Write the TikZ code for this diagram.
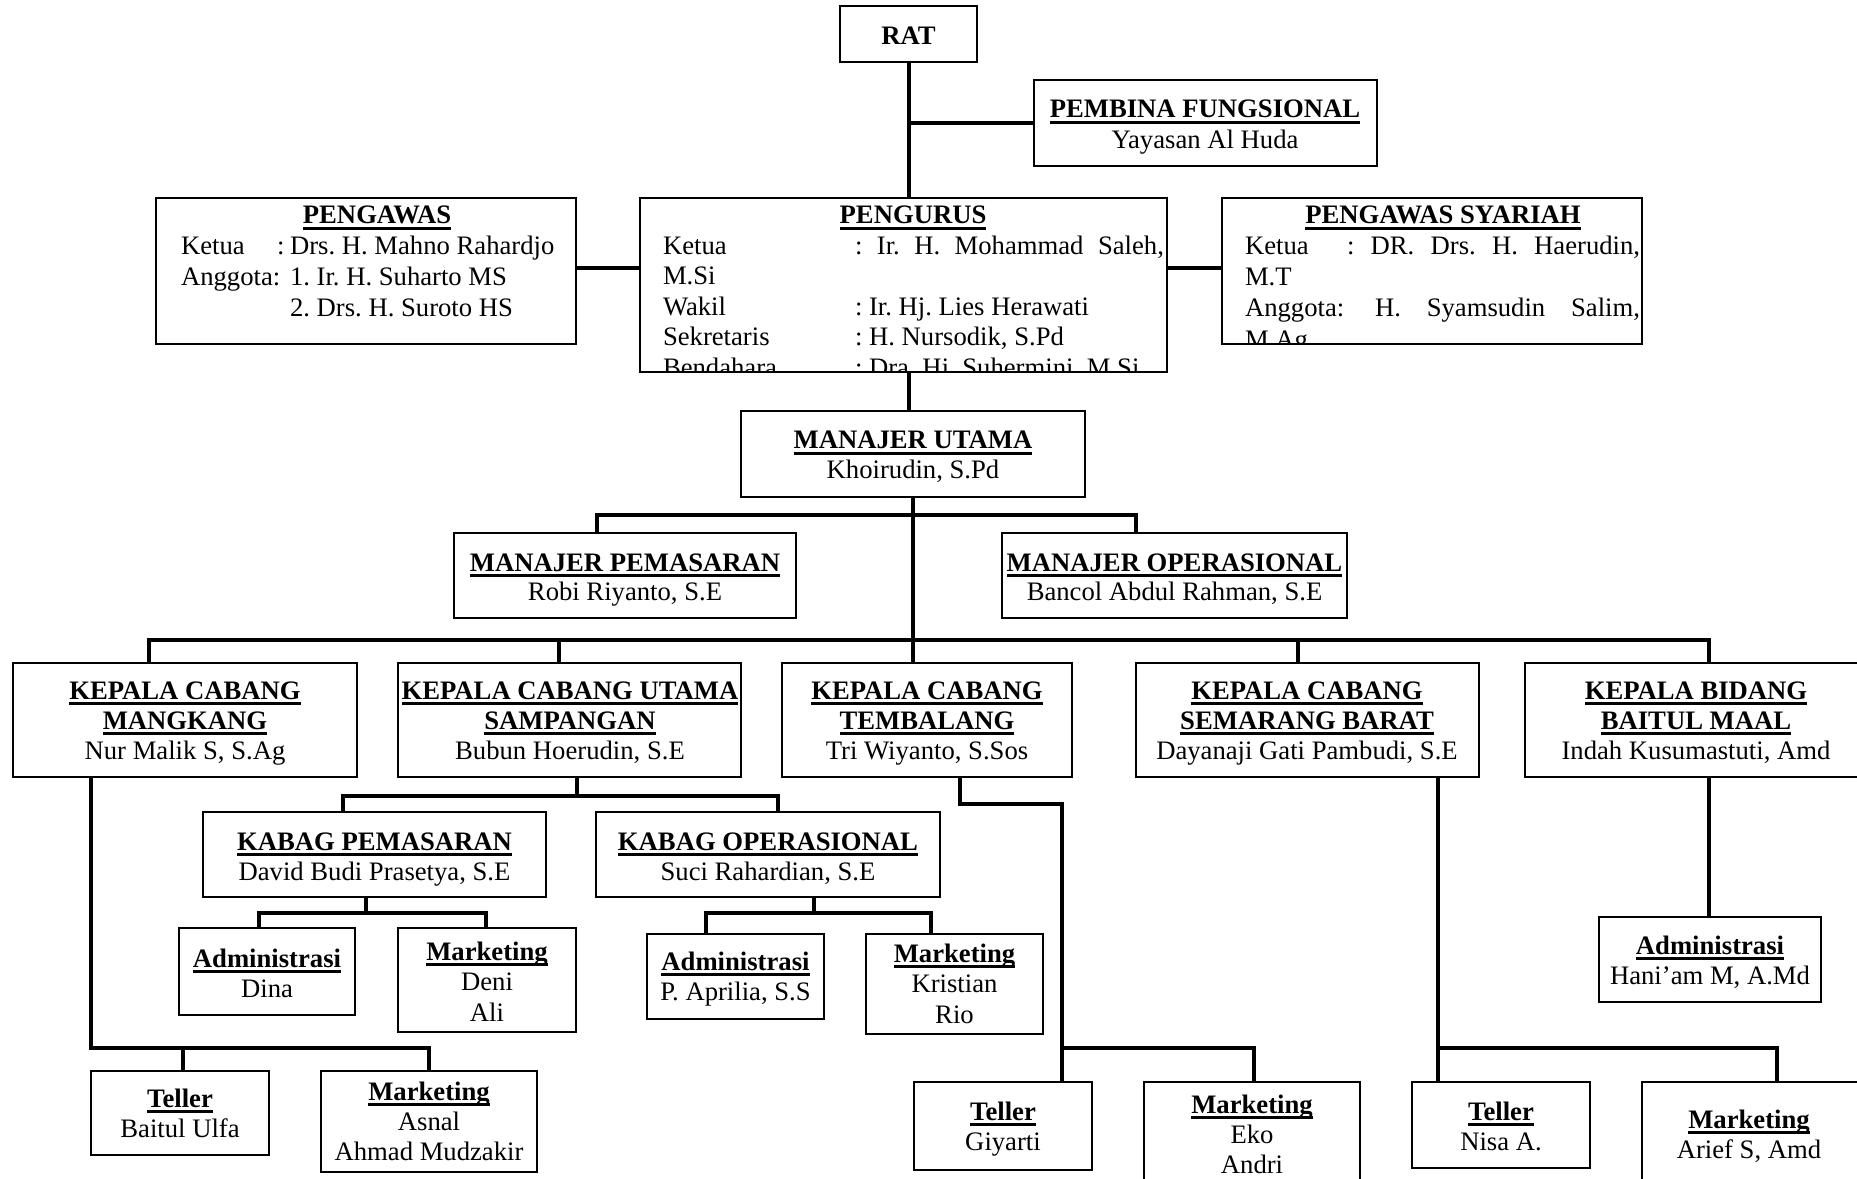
\documentclass[tikz,border=0pt]{standalone}
\usepackage{fontspec}
\setmainfont{Liberation Serif}
\frenchspacing
\newsavebox\ulbox
\newcommand\ulx[1]{\sbox\ulbox{#1}\rlap{\rule[-2.5pt]{\wd\ulbox}{1.2pt}}\usebox\ulbox}
\newcommand\ttl[1]{\textbf{\ulx{#1}}}
\newcounter{tn}
\tikzset{
  box/.style={draw, line width=0.9pt, inner sep=0pt, outer sep=0pt, fill=white},
  conn/.style={line width=1.6pt},
  txt/.style={inner sep=0pt, outer sep=0pt, font=\fontsize{12pt}{14pt}\selectfont},
}
\newcommand\bx[5]{\node[box, minimum width={(#4-#2)*0.45pt}, minimum height={(#5-#3)*0.45pt}] (#1) at ({(#2+#4)/2},{(#3+#5)/2}) {};}
\newcommand\tl[4]{\stepcounter{tn}\node[txt, anchor=#1] (t\arabic{tn}) at (#2,#3) {#4};}
\begin{document}
\begin{tikzpicture}[x=0.45pt, y=-0.45pt]
\useasboundingbox (0,0) rectangle (1857,1179);
\fill[white] (0,0) rectangle (1857,1179);
\clip (0,0) rectangle (1857,1179);

% ---------- boxes ----------
\bx{rat}{840}{6}{977}{62}
\tl{base}{908.5}{45}{\textbf{RAT}}

\bx{pem}{1034}{80}{1377}{166}
\tl{base}{1205}{118}{\ttl{PEMBINA FUNGSIONAL}}
\tl{base}{1205}{149}{Yayasan Al Huda}

\bx{pgw}{156}{198}{576}{344}
\tl{base}{377}{224}{\ttl{PENGAWAS}}
\tl{base west}{181}{255}{Ketua}
\tl{base west}{277}{255}{:}
\tl{base west}{290}{255}{Drs. H. Mahno Rahardjo}
\tl{base west}{181}{286}{Anggota:}
\tl{base west}{290}{286}{1. Ir. H. Suharto MS}
\tl{base west}{290}{317}{2. Drs. H. Suroto HS}

\bx{pgr}{640}{198}{1167}{372}
\tl{base}{913}{224}{\ttl{PENGURUS}}
\begin{scope}
\clip (641,199) rectangle (1166,371);
\tl{base west}{663}{255}{Ketua}
\tl{base west}{855}{255}{\makebox[139pt][s]{: Ir. H. Mohammad Saleh,}}
\tl{base west}{663}{285}{M.Si}
\tl{base west}{663}{316}{Wakil}
\tl{base west}{855}{316}{: Ir. Hj. Lies Herawati}
\tl{base west}{663}{346}{Sekretaris}
\tl{base west}{855}{346}{: H. Nursodik, S.Pd}
\tl{base west}{663}{377}{Bendahara}
\tl{base west}{855}{377}{: Dra. Hj. Suhermini, M.Si}
\end{scope}

\bx{sya}{1222}{198}{1642}{344}
\tl{base}{1443}{224}{\ttl{PENGAWAS SYARIAH}}
\begin{scope}
\clip (1223,199) rectangle (1641,343);
\tl{base west}{1245}{255}{Ketua}
\tl{base west}{1347}{255}{\makebox[131.9pt][s]{: DR. Drs. H. Haerudin,}}
\tl{base west}{1245}{286}{M.T}
\tl{base west}{1245}{317}{Anggota:}
\tl{base west}{1375}{317}{\makebox[119.25pt][s]{H. Syamsudin Salim,}}
\tl{base west}{1245}{349}{M.Ag}
\end{scope}

\bx{mu}{741}{411}{1085}{497}
\tl{base}{913}{449}{\ttl{MANAJER UTAMA}}
\tl{base}{913}{479}{Khoirudin, S.Pd}

\bx{mp}{454}{533}{796}{618}
\tl{base}{625}{571}{\ttl{MANAJER PEMASARAN}}
\tl{base}{625}{601}{Robi Riyanto, S.E}

\bx{mo}{1002}{533}{1347}{618}
\tl{base}{1174.5}{571}{\ttl{MANAJER OPERASIONAL}}
\tl{base}{1174.5}{601}{Bancol Abdul Rahman, S.E}

\bx{kc1}{13}{663}{357}{777}
\tl{base}{185}{699}{\ttl{KEPALA CABANG}}
\tl{base}{185}{729}{\ttl{MANGKANG}}
\tl{base}{185}{759}{Nur Malik S, S.Ag}

\bx{kc2}{398}{663}{741}{777}
\tl{base}{570}{699}{\ttl{KEPALA CABANG UTAMA}}
\tl{base}{570}{729}{\ttl{SAMPANGAN}}
\tl{base}{570}{759}{Bubun Hoerudin, S.E}

\bx{kc3}{782}{663}{1072}{777}
\tl{base}{927}{699}{\ttl{KEPALA CABANG}}
\tl{base}{927}{729}{\ttl{TEMBALANG}}
\tl{base}{927}{759}{Tri Wiyanto, S.Sos}

\bx{kc4}{1136}{663}{1479}{777}
\tl{base}{1307}{699}{\ttl{KEPALA CABANG}}
\tl{base}{1307}{729}{\ttl{SEMARANG BARAT}}
\tl{base}{1307}{759}{Dayanaji Gati Pambudi, S.E}

\bx{kc5}{1525}{663}{1867}{777}
\tl{base}{1696}{699}{\ttl{KEPALA BIDANG}}
\tl{base}{1696}{729}{\ttl{BAITUL MAAL}}
\tl{base}{1696}{759}{Indah Kusumastuti, Amd}

\bx{kp}{203}{812}{546}{897}
\tl{base}{374.5}{850}{\ttl{KABAG PEMASARAN}}
\tl{base}{374.5}{880}{David Budi Prasetya, S.E}

\bx{ko}{596}{812}{940}{897}
\tl{base}{768}{850}{\ttl{KABAG OPERASIONAL}}
\tl{base}{768}{880}{Suci Rahardian, S.E}

\bx{a1}{179}{928}{355}{1015}
\tl{base}{267}{967}{\ttl{Administrasi}}
\tl{base}{267}{997}{Dina}

\bx{m1}{398}{928}{576}{1032}
\tl{base}{487}{960}{\ttl{Marketing}}
\tl{base}{487}{990}{Deni}
\tl{base}{487}{1021}{Ali}

\bx{a2}{647}{934}{824}{1019}
\tl{base}{735.5}{970}{\ttl{Administrasi}}
\tl{base}{735.5}{1000}{P. Aprilia, S.S}

\bx{m2}{866}{934}{1043}{1034}
\tl{base}{954.5}{962}{\ttl{Marketing}}
\tl{base}{954.5}{992}{Kristian}
\tl{base}{954.5}{1023}{Rio}

\bx{a3}{1599}{917}{1821}{1002}
\tl{base}{1710}{954}{\ttl{Administrasi}}
\tl{base}{1710}{984}{Hani’am M, A.Md}

\bx{tl1}{91}{1071}{269}{1155}
\tl{base}{180}{1107}{\ttl{Teller}}
\tl{base}{180}{1137}{Baitul Ulfa}

\bx{m3}{321}{1071}{537}{1172}
\tl{base}{429}{1100}{\ttl{Marketing}}
\tl{base}{429}{1130}{Asnal}
\tl{base}{429}{1160}{Ahmad Mudzakir}

\bx{tl2}{914}{1082}{1092}{1170}
\tl{base}{1003}{1120}{\ttl{Teller}}
\tl{base}{1003}{1150}{Giyarti}

\bx{m4}{1144}{1082}{1360}{1200}
\tl{base}{1252}{1113}{\ttl{Marketing}}
\tl{base}{1252}{1143}{Eko}
\tl{base}{1252}{1173}{Andri}

\bx{tl3}{1412}{1082}{1590}{1168}
\tl{base}{1501}{1120}{\ttl{Teller}}
\tl{base}{1501}{1150}{Nisa A.}

\bx{m5}{1642}{1082}{1860}{1200}
\tl{base}{1749}{1128}{\ttl{Marketing}}
\tl{base}{1749}{1158}{Arief S, Amd}

% ---------- connector points ----------
\coordinate (sp) at (909,0);
\coordinate (sp2) at (913,0);
\coordinate (b1) at (597,515);
\coordinate (b2) at (1136,515);
\coordinate (d1) at (149,640);
\coordinate (d2) at (559,640);
\coordinate (d3) at (913,640);
\coordinate (d4) at (1298,640);
\coordinate (d5) at (1709,640);
\coordinate (s1) at (577,796);
\coordinate (s1a) at (343,796);
\coordinate (s1b) at (778,796);
\coordinate (p1) at (366,913);
\coordinate (p1a) at (259,913);
\coordinate (p1b) at (486,913);
\coordinate (o1) at (814,913);
\coordinate (o1a) at (706,913);
\coordinate (o1b) at (931,913);
\coordinate (g1) at (91,1048);
\coordinate (g1a) at (183,1048);
\coordinate (g1b) at (429,1048);
\coordinate (h0) at (960,804);
\coordinate (h1) at (1062,804);
\coordinate (h2) at (1062,1048);
\coordinate (h3) at (1254,1048);
\coordinate (k1) at (1438,1048);
\coordinate (k2) at (1777,1048);
\coordinate (bm) at (1709,0);

% ---------- connectors ----------
\draw[conn] (rat.south -| sp) -- (sp |- pgr.north);
\draw[conn] (pem.west) -- (pem.west -| sp);
\draw[conn] (pgw.east |- 0,268) -- (pgr.west |- 0,268);
\draw[conn] (pgr.east |- 0,268) -- (sya.west |- 0,268);
\draw[conn] (sp |- pgr.south) -- (sp |- mu.north);
\draw[conn] (sp2 |- mu.south) -- (d3);
\draw[conn] (b1 |- mp.north) -- (b1) -- (b2) -- (b2 |- mo.north);
\draw[conn] (d1 |- kc1.north) -- (d1) -- (d5) -- (d5 |- kc5.north);
\draw[conn] (d2) -- (d2 |- kc2.north);
\draw[conn] (d3) -- (d3 |- kc3.north);
\draw[conn] (d4) -- (d4 |- kc4.north);
% Sampangan
\draw[conn] (s1 |- kc2.south) -- (s1);
\draw[conn] (s1a |- kp.north) -- (s1a) -- (s1b) -- (s1b |- ko.north);
\draw[conn] (p1 |- kp.south) -- (p1);
\draw[conn] (p1a |- a1.north) -- (p1a) -- (p1b) -- (p1b |- m1.north);
\draw[conn] (o1 |- ko.south) -- (o1);
\draw[conn] (o1a |- a2.north) -- (o1a) -- (o1b) -- (o1b |- m2.north);
% Mangkang
\draw[conn] (g1 |- kc1.south) -- (g1) -- (g1b) -- (g1b |- m3.north);
\draw[conn] (g1a) -- (g1a |- tl1.north);
% Tembalang
\draw[conn] (h0 |- kc3.south) -- (h0) -- (h1) -- (h2) -- (h3) -- (h3 |- m4.north);
\draw[conn] (h2) -- (h2 |- tl2.north);
% Semarang Barat
\draw[conn] (k1 |- kc4.south) -- (k1 |- tl3.north);
\draw[conn] (k1) -- (k2) -- (k2 |- m5.north);
% Baitul Maal
\draw[conn] (bm |- kc5.south) -- (bm |- a3.north);
\end{tikzpicture}
\end{document}
